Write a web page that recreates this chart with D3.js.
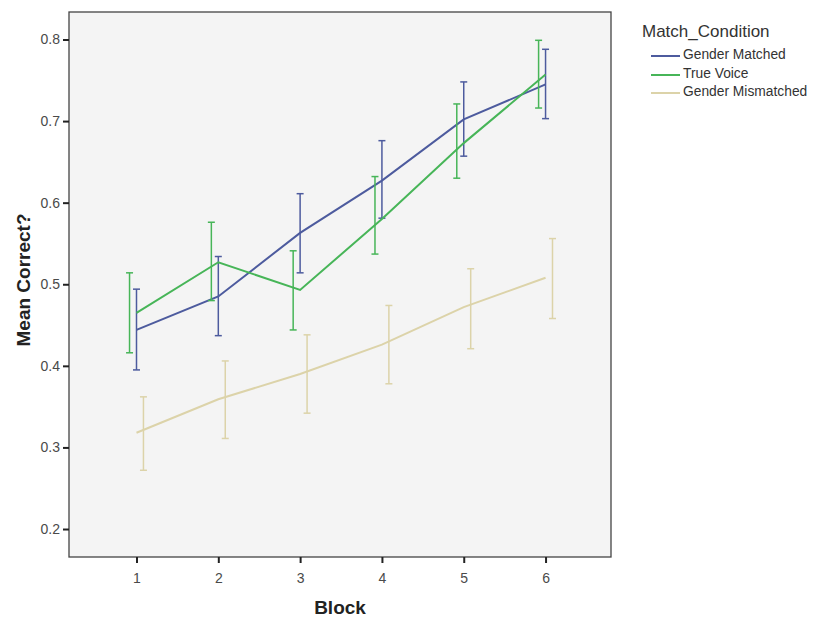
<!DOCTYPE html>
<html>
<head>
    <title>Mean Correct by Block</title>
    <style type="text/css">
        body { margin: 0; background: #fff; }
        svg text { font-family: "Liberation Sans", Arial, sans-serif; }
        .tick text { font-size: 14px; fill: #4a4a4a; }
        .axis-title { font-size: 19px; font-weight: bold; fill: #222; }
        .legend text { fill: #333; }
    </style>
</head>
<body>
<script src="https://d3js.org/d3.v7.min.js" type="text/javascript"></script>
<script type="text/javascript">

    var blocks = [1, 2, 3, 4, 5, 6];
    var yTicks = [0.2, 0.3, 0.4, 0.5, 0.6, 0.7, 0.8];
    var seriesNames = ['Gender Matched', 'True Voice', 'Gender Mismatched'];

    // means and 95% CI bounds per block
    var matchedMean = [0.444, 0.485, 0.563, 0.627, 0.702, 0.745];
    var matchedHigh = [0.494, 0.534, 0.611, 0.676, 0.748, 0.788];
    var matchedLow  = [0.395, 0.437, 0.514, 0.581, 0.657, 0.703];

    var voiceMean = [0.465, 0.527, 0.493, 0.580, 0.673, 0.757];
    var voiceHigh = [0.514, 0.576, 0.541, 0.632, 0.721, 0.799];
    var voiceLow  = [0.416, 0.480, 0.444, 0.537, 0.630, 0.716];

    var mismatchMean = [0.318, 0.359, 0.390, 0.426, 0.472, 0.508];
    var mismatchHigh = [0.362, 0.406, 0.438, 0.474, 0.519, 0.556];
    var mismatchLow  = [0.272, 0.311, 0.342, 0.378, 0.421, 0.458];

    var colors = ['#4d5b9e', '#47b558', '#dcd3a9'];
    var dodge = [0, -0.085, 0.085];

    var series = [
        { name: seriesNames[0], mean: matchedMean, hi: matchedHigh, lo: matchedLow },
        { name: seriesNames[1], mean: voiceMean, hi: voiceHigh, lo: voiceLow },
        { name: seriesNames[2], mean: mismatchMean, hi: mismatchHigh, lo: mismatchLow }
    ];

    var plot = { left: 69, top: 12, right: 611, bottom: 557 };

    var svg = d3.select('body').append('svg')
        .attr('width', 814)
        .attr('height', 617);

    var x = d3.scaleLinear().domain([0.175, 6.8]).range([plot.left, plot.right]);
    var y = d3.scaleLinear().domain([0.1657, 0.8337]).range([plot.bottom, plot.top]);

    svg.append('rect')
        .attr('x', plot.left).attr('y', plot.top)
        .attr('width', plot.right - plot.left)
        .attr('height', plot.bottom - plot.top)
        .attr('fill', '#f4f4f4')
        .attr('stroke', '#444')
        .attr('stroke-width', 1.3);

    var xAxis = svg.append('g')
        .attr('transform', 'translate(0,' + plot.bottom + ')')
        .call(d3.axisBottom(x).tickValues(blocks).tickSize(6).tickPadding(10).tickFormat(d3.format('d')));
    var yAxis = svg.append('g')
        .attr('transform', 'translate(' + plot.left + ',0)')
        .call(d3.axisLeft(y).tickValues(yTicks).tickSize(6).tickPadding(3).tickFormat(d3.format('.1f')));
    [xAxis, yAxis].forEach(function (a) {
        a.select('.domain').remove();
        a.selectAll('.tick line').attr('stroke', '#222').attr('stroke-width', 2);
    });

    svg.append('text').attr('class', 'axis-title')
        .attr('x', 340).attr('y', 614)
        .attr('text-anchor', 'middle')
        .text('Block');
    svg.append('text').attr('class', 'axis-title')
        .attr('transform', 'translate(30,' + 280 + ') rotate(-90)')
        .attr('text-anchor', 'middle')
        .text('Mean Correct?');

    var line = d3.line()
        .x(function (d, i) { return x(blocks[i]); })
        .y(function (d) { return y(d); });

    var g = svg.append('g');
    series.forEach(function (s, k) {
        g.append('path')
            .attr('d', line(s.mean))
            .attr('fill', 'none')
            .attr('stroke', colors[k])
            .attr('stroke-width', 2);

        var bars = g.selectAll('g.bar' + k)
            .data(blocks)
            .enter().append('g');
        bars.append('line')
            .attr('x1', function (d) { return x(d + dodge[k]); })
            .attr('x2', function (d) { return x(d + dodge[k]); })
            .attr('y1', function (d, i) { return y(s.hi[i]); })
            .attr('y2', function (d, i) { return y(s.lo[i]); });
        ['hi', 'lo'].forEach(function (key) {
            bars.append('line')
                .attr('x1', function (d) { return x(d + dodge[k]) - 3.5; })
                .attr('x2', function (d) { return x(d + dodge[k]) + 3.5; })
                .attr('y1', function (d, i) { return y(s[key][i]); })
                .attr('y2', function (d, i) { return y(s[key][i]); });
        });
        bars.selectAll('line')
            .attr('stroke', colors[k])
            .attr('stroke-width', 1.5);
    });

    var legend = svg.append('g').attr('class', 'legend');
    legend.append('text')
        .attr('x', 642).attr('y', 37)
        .style('font-size', '17px')
        .text('Match_Condition');
    var legendY = [56, 75, 93];
    seriesNames.forEach(function (name, k) {
        legend.append('line')
            .attr('x1', 651).attr('x2', 680)
            .attr('y1', legendY[k]).attr('y2', legendY[k])
            .attr('stroke', colors[k]).attr('stroke-width', 2);
        legend.append('text')
            .attr('x', 683).attr('y', legendY[k] + 3)
            .style('font-size', '13.8px')
            .text(name);
    });
</script>
</body>
</html>
